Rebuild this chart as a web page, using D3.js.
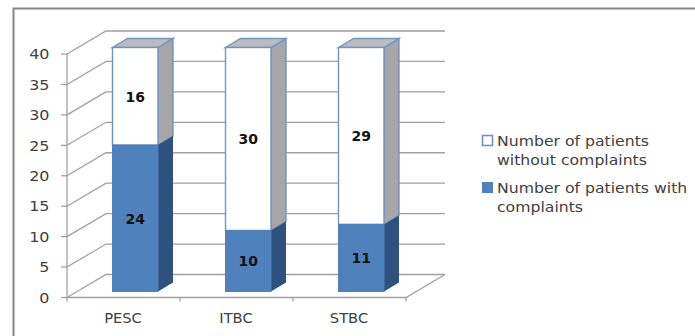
<!DOCTYPE html>
<html>
<head>
<meta charset="utf-8">
<script src="https://cdn.jsdelivr.net/npm/d3@7"></script>
<style>
html,body{margin:0;padding:0;background:#fff;}
svg{display:block;}
text{font-family:"DejaVu Sans",Verdana,sans-serif;}
</style>
</head>
<body>
<svg id="chart" width="695" height="336"></svg>
<script>
const categories = ["PESC", "ITBC", "STBC"];
const withComplaints = [24, 10, 11];
const withoutComplaints = [16, 30, 29];
const axisTicks = [0, 5, 10, 15, 20, 25, 30, 35, 40];
const legendEntries = [
  { lines: ["Number of patients", "without complaints"], key: "without" },
  { lines: ["Number of patients with", "complaints"], key: "with" }
];

const BLUE = "#4f81bd", BLUE_SIDE = "#2f5180", GREY_SIDE = "#a6a6a6", GREY_TOP = "#bcbcbc";
const GRID = "#a0a0a0", OUTLINE = "#6f94c6", TEXT = "#404040";

const svg = d3.select("#chart");

// Oblique projection: the back wall sits up and to the right of the front plane.
const depth = { dx: 39, dy: -23 };
const barDepth = { dx: 15, dy: -9 };

const xFront = d3.scaleBand().domain(categories).range([67, 406]);
const barInset = 45.5; // gap from the band's left edge to the bar face
const barWidth = 45.5;
const yFront = d3.scaleLinear().domain([0, 40]).range([297.5, 54]);
const yBack = v => yFront(v) + depth.dy;
const yBar = d3.scaleLinear().domain([0, 40]).range([291.5, 47.5]);

// Horizontally widened text, in the proportions of the chart's typeface
function label(parent, x, y, str, size, stretch, anchor, fill, weight) {
  return parent.append("text")
    .attr("transform", `translate(${x},${y}) scale(${stretch},1)`)
    .attr("text-anchor", anchor).attr("font-size", size)
    .attr("font-weight", weight || "normal").attr("fill", fill).text(str);
}

// Chart frame: only the top and left edges fall inside the page
svg.append("path").attr("d", "M695,8.5H13.5V336")
  .attr("fill", "none").attr("stroke", "#858585").attr("stroke-width", 2);

const grid = svg.append("g").attr("fill", "none").attr("stroke", GRID).attr("stroke-width", 1.3);

// Back-wall gridlines with their diagonals along the left side wall
axisTicks.forEach(t => {
  grid.append("path").attr("d", d3.line()([
    [xFront.range()[0], yFront(t)],
    [xFront.range()[0] + depth.dx, yBack(t)],
    [xFront.range()[1] + depth.dx, yBack(t)]
  ]));
  grid.append("line")
    .attr("x1", 61).attr("x2", 67).attr("y1", yFront(t)).attr("y2", yFront(t));
});

// Floor outline and vertical axis
grid.append("path").attr("d", d3.line()([
  [67, yFront(40)], [67, yFront(0)], [406, yFront(0)], [406 + depth.dx, yBack(0)]
]));
xFront.domain().concat([null]).forEach(c => {
  const x = c === null ? xFront.range()[1] : xFront(c);
  grid.append("line").attr("x1", x).attr("x2", x).attr("y1", yFront(0)).attr("y2", yFront(0) + 4);
});

// One segment of a stacked 3D bar: side face, optional top face, front face
function drawBlock(g, x0, x1, yLow, yHigh, front, side, stroke, top) {
  const { dx, dy } = barDepth;
  g.append("path").attr("d", d3.line()([[x1, yLow], [x1 + dx, yLow + dy], [x1 + dx, yHigh + dy], [x1, yHigh]]) + "Z")
    .attr("fill", side).attr("stroke", stroke).attr("stroke-width", stroke === "none" ? 0 : 1.4);
  if (top) {
    g.append("path").attr("d", d3.line()([[x0, yHigh], [x0 + dx, yHigh + dy], [x1 + dx, yHigh + dy], [x1, yHigh]]) + "Z")
      .attr("fill", top).attr("stroke", stroke).attr("stroke-width", 1.4);
  }
  g.append("rect").attr("x", x0).attr("y", yHigh).attr("width", x1 - x0).attr("height", yLow - yHigh)
    .attr("fill", front).attr("stroke", stroke === "none" ? front : stroke).attr("stroke-width", stroke === "none" ? 1 : 1.4);
}

const bars = svg.append("g");
categories.forEach((c, i) => {
  const x0 = xFront(c) + barInset;
  const x1 = x0 + barWidth;
  const g = bars.append("g");
  const low = withComplaints[i], total = low + withoutComplaints[i];
  drawBlock(g, x0, x1, yBar(low), yBar(total), "#fff", GREY_SIDE, OUTLINE, GREY_TOP);
  drawBlock(g, x0, x1, yBar(0), yBar(low), BLUE, BLUE_SIDE, "none", null);

  const cx = (x0 + x1) / 2;
  [[low / 2, low], [low + withoutComplaints[i] / 2, withoutComplaints[i]]].forEach(([pos, val]) => {
    label(g, cx, yBar(pos) + 5.3, val, 14, 1, "middle", "#111", "bold");
  });

  label(svg, xFront(c) + xFront.bandwidth() / 2 - 0.5, 322.5, c, 14, 1.05, "middle", TEXT);
});

// Vertical axis labels
axisTicks.forEach(t => {
  label(svg, 49.5, yFront(t) + 5.3, t, 14.5, 1.1, "end", TEXT);
});

// Legend
const legendY = [146, 193];
legendEntries.forEach((e, i) => {
  const g = svg.append("g");
  if (e.key === "without") {
    g.append("rect").attr("x", 482.5).attr("y", legendY[i] - 10.5).attr("width", 10).attr("height", 10)
      .attr("fill", "#fff").attr("stroke", OUTLINE).attr("stroke-width", 1.6);
  } else {
    g.append("rect").attr("x", 482).attr("y", legendY[i] - 11).attr("width", 11).attr("height", 11)
      .attr("fill", BLUE);
  }
  e.lines.forEach((l, j) => {
    label(g, 497, legendY[i] + j * 19, l, 14, 1.12, "start", TEXT);
  });
});
</script>
</body>
</html>
